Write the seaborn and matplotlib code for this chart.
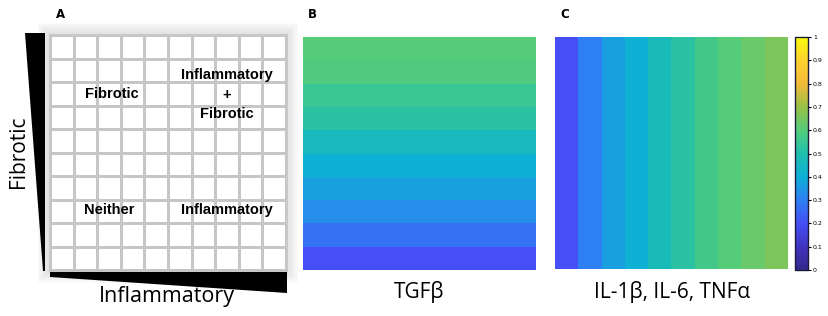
import numpy as np
import seaborn as sns
import matplotlib
matplotlib.use("Agg")
import matplotlib.pyplot as plt
from matplotlib.colors import LinearSegmentedColormap, ListedColormap
from matplotlib.patches import Polygon, Rectangle

# values
tgfb_rows = [0.60, 0.59, 0.55, 0.52, 0.46, 0.41, 0.37, 0.33, 0.27, 0.20]   # top -> bottom
cyto_cols = [0.20, 0.30, 0.367, 0.41, 0.47, 0.52, 0.57, 0.60, 0.63, 0.66]  # left -> right
cbar_ticks = [0, 0.1, 0.2, 0.3, 0.4, 0.5, 0.6, 0.7, 0.8, 0.9, 1]
cbar_labels = ["0", "0.1", "0.2", "0.3", "0.4", "0.5", "0.6", "0.7", "0.8", "0.9", "1"]
regions = ["Fibrotic", "Inflammatory\n+\nFibrotic", "Neither", "Inflammatory"]
region_pos = [(2.6, 2.5), (7.5, 2.55), (2.5, 7.45), (7.5, 7.45)]

# parula-like colormap, matched to the colorbar in the picture
parula = LinearSegmentedColormap.from_list("parula", [
    (0.0, (0.20, 0.16, 0.55)), (0.1, (0.25, 0.20, 0.75)), (0.2, (0.27, 0.31, 0.96)),
    (0.3, (0.18, 0.50, 0.95)), (0.4, (0.05, 0.69, 0.84)), (0.5, (0.12, 0.75, 0.68)),
    (0.6, (0.33, 0.80, 0.48)), (0.7, (0.60, 0.76, 0.28)), (0.8, (0.95, 0.73, 0.22)),
    (0.9, (0.99, 0.82, 0.18)), (1.0, (0.98, 0.98, 0.05))])

W, H = 829, 316
fig = plt.figure(figsize=(W / 100, H / 100), dpi=100)
fig.patch.set_facecolor("white")


def box(x0, y0, x1, y1):
    return [x0 / W, 1 - y1 / H, (x1 - x0) / W, (y1 - y0) / H]


def pt(x, y):
    return x / W, 1 - y / H


# soft shadow behind grid A (drawn under the axes)
for k in range(8):
    r = 2 + k * 1.5
    fig.patches.append(Rectangle(pt(50 - r, 270 + r), (236 + 2 * r) / W, (235 + 2 * r) / H,
                                 transform=fig.transFigure, color="0.55", alpha=0.03, lw=0, zorder=-1))

# panel A
ax_a = fig.add_axes(box(50, 35, 286, 270))
sns.heatmap(np.zeros((10, 10)), ax=ax_a, cmap=ListedColormap(["white"]), vmin=-1, vmax=1,
            cbar=False, linewidths=2, linecolor="#c6c6c6", xticklabels=False, yticklabels=False)
for s in ax_a.spines.values():
    s.set_visible(True)
    s.set_color("#c6c6c6")
    s.set_linewidth(2)
for txt, (x, y) in zip(regions, region_pos):
    ax_a.text(x, y, txt, ha="center", va="center", fontsize=10.5, fontweight="bold",
              family=["Liberation Sans", "DejaVu Sans"], linespacing=1.5, color="black")

# wedges
fig.patches.append(Polygon([pt(25, 33), pt(45, 33), pt(45, 271), pt(43, 271)], closed=True,
                           transform=fig.transFigure, color="black", lw=0))
fig.patches.append(Polygon([pt(50, 272), pt(287, 272), pt(287, 293), pt(50, 277)], closed=True,
                           transform=fig.transFigure, color="black", lw=0))

# panel B
ax_b = fig.add_axes(box(303, 37, 536, 270))
sns.heatmap(np.tile(np.array(tgfb_rows)[:, None], (1, 10)), ax=ax_b, cmap=parula, vmin=0, vmax=1,
            cbar=False, xticklabels=False, yticklabels=False)

# panel C
ax_c = fig.add_axes(box(555, 37, 788, 269))
cax = fig.add_axes(box(795, 37, 808, 270))
sns.heatmap(np.tile(np.array(cyto_cols)[None, :], (10, 1)), ax=ax_c, cmap=parula, vmin=0, vmax=1,
            cbar_ax=cax, xticklabels=False, yticklabels=False)
cax.set_yticks(cbar_ticks)
cax.set_yticklabels(cbar_labels)
cax.tick_params(labelsize=4.5, length=2, width=0.8, pad=1.5, colors="black")
cb = ax_c.collections[0].colorbar
cb.outline.set_visible(True)
cb.outline.set_edgecolor("#1a1a3a")
cb.outline.set_linewidth(1)

# labels
lab = dict(family=["Open Sans", "DejaVu Sans"], fontsize=15, color="black")
fig.text(*pt(19, 152), "Fibrotic", rotation=90, ha="center", va="center", **lab)
fig.text(*pt(167, 302), "Inflammatory", ha="center", va="baseline",
         **{**lab, "fontsize": 15.5})
fig.text(*pt(419, 298), "TGFβ", ha="center", va="baseline", **lab)
fig.text(*pt(672, 298), "IL-1β, IL-6, TNFα", ha="center", va="baseline", **lab)
for letter, x in zip("ABC", [61, 312, 565]):
    fig.text(*pt(x, 15), letter, ha="center", va="center", fontsize=8.5, fontweight="bold",
             family=["DejaVu Sans"])

fig.savefig("out.png", dpi=100)
